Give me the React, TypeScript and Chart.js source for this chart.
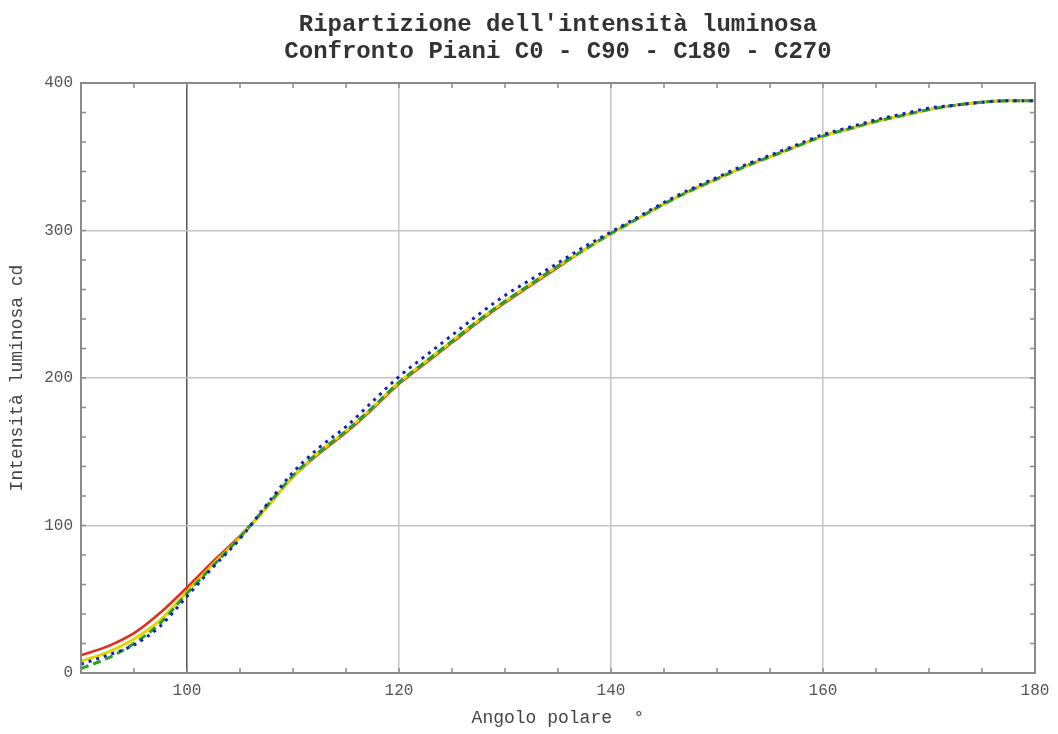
import React, { useEffect, useRef } from "react";
import { Chart, registerables } from "chart.js";

Chart.register(...registerables);

const angles = [90, 92.5, 95, 97.5, 100, 102.5, 105, 107.5, 110, 112.5, 115, 117.5, 120, 122.5, 125, 127.5, 130, 132.5, 135, 137.5, 140, 142.5, 145, 147.5, 150, 152.5, 155, 157.5, 160, 162.5, 165, 167.5, 170, 172.5, 175, 177.5, 180];

const c0 = [12, 18, 27, 41, 58, 76, 93, 112, 133, 149, 163, 179, 196, 210, 224, 238, 251, 263, 275, 287, 298, 308, 318, 327, 335, 343, 350, 357, 364, 369, 374, 378, 382, 385, 387, 388, 388];
const c90 = [6, 12, 19, 32, 52, 72, 91, 114, 136, 153, 167, 184, 201, 215, 229, 243, 256, 267, 278, 289, 299, 309, 319, 328, 336, 344, 351, 358, 365, 370, 375, 379, 383, 385, 387, 388, 388];
const c180 = [3, 10, 20, 34, 54, 73, 92, 113, 134, 150, 164, 180, 197, 211, 225, 239, 252, 264, 276, 287, 298, 308, 318, 327, 335, 343, 350, 357, 364, 369, 374, 378, 382, 385, 387, 388, 388];
const c270 = [8, 14, 23, 36, 55, 74, 92, 112, 133, 150, 164, 180, 197, 211, 225, 239, 252, 264, 276, 287, 298, 308, 318, 327, 335, 343, 350, 357, 364, 369, 374, 378, 382, 385, 387, 388, 388];

const xTicks = [100, 120, 140, 160, 180];
const yTicks = [0, 100, 200, 300, 400];

const titleLines = ["Ripartizione dell'intensità luminosa", "Confronto Piani C0 - C90 - C180 - C270"];

const mono = "'Liberation Mono', 'DejaVu Sans Mono', monospace";

const framePlugin = {
  id: "frame",
  afterDatasetsDraw(chart: any) {
    const { ctx, chartArea, scales } = chart;
    const { left, right, top, bottom } = chartArea;
    ctx.save();
    ctx.strokeStyle = "#8a8a8a";
    ctx.lineWidth = 1.5;
    for (let v = 90; v <= 180; v += 5) {
      const px = scales.x.getPixelForValue(v);
      ctx.beginPath();
      ctx.moveTo(px, bottom);
      ctx.lineTo(px, bottom - 5);
      ctx.moveTo(px, top);
      ctx.lineTo(px, top + 5);
      ctx.stroke();
    }
    for (let v = 0; v <= 400; v += 20) {
      const py = scales.y.getPixelForValue(v);
      ctx.beginPath();
      ctx.moveTo(left, py);
      ctx.lineTo(left + 5, py);
      ctx.moveTo(right, py);
      ctx.lineTo(right - 5, py);
      ctx.stroke();
    }
    ctx.lineWidth = 2;
    ctx.strokeRect(left, top, right - left, bottom - top);
    ctx.restore();
  },
};

export default function App() {
  const ref = useRef<HTMLCanvasElement>(null);
  useEffect(() => {
    if (!ref.current) return;
    const mk = (vals: number[]) => angles.map((a, i) => ({ x: a, y: vals[i] }));
    const chart = new Chart(ref.current, {
      type: "line",
      data: {
        datasets: [
          { label: "C0", data: mk(c0), borderColor: "rgb(225,45,25)", borderWidth: 2.5, pointRadius: 0, cubicInterpolationMode: "monotone", order: 3 },
          { label: "C270", data: mk(c270), borderColor: "rgb(225,215,0)", borderWidth: 3, pointRadius: 0, cubicInterpolationMode: "monotone", order: 2 },
          { label: "C180", data: mk(c180), borderColor: "rgb(40,160,40)", borderWidth: 3, borderDash: [8, 5], pointRadius: 0, cubicInterpolationMode: "monotone", order: 1 },
          { label: "C90", data: mk(c90), borderColor: "rgb(25,30,190)", borderWidth: 3, borderDash: [3, 5], pointRadius: 0, cubicInterpolationMode: "monotone", order: 0 },
        ] as any,
      },
      options: {
        animation: false,
        responsive: false,
        maintainAspectRatio: false,
        layout: { padding: { left: 0, right: 23, top: 0, bottom: 0 } },
        plugins: {
          legend: { display: false },
          tooltip: { enabled: false },
          title: {
            display: true,
            fullSize: false,
            text: titleLines,
            color: "#333",
            font: { family: mono, size: 24, weight: "bold", lineHeight: 27 / 24 },
            padding: { top: 11, bottom: 18 },
          },
        },
        scales: {
          x: {
            type: "linear",
            min: 90,
            max: 180,
            afterBuildTicks: (s: any) => { s.ticks = xTicks.map((v) => ({ value: v })); },
            afterFit: (s: any) => { s.height = 61; },
            ticks: { color: "#555", font: { family: mono, size: 16 }, padding: 8, maxRotation: 0 },
            grid: {
              drawTicks: false,
              color: (c: any) => (c.tick && c.tick.value === 100 ? "#555" : "#c4c4c4"),
              lineWidth: 1.5,
            },
            border: { display: false },
            title: { display: true, text: "Angolo polare  °", color: "#444", font: { family: mono, size: 18 }, padding: { top: 5, bottom: 5 } },
          },
          y: {
            type: "linear",
            min: 0,
            max: 400,
            afterBuildTicks: (s: any) => { s.ticks = yTicks.map((v) => ({ value: v })); },
            afterFit: (s: any) => { s.width = 81; },
            ticks: { color: "#555", font: { family: mono, size: 16 }, padding: 8 },
            grid: { drawTicks: false, color: "#c4c4c4", lineWidth: 1.5 },
            border: { display: false },
            title: { display: true, text: "Intensità luminosa cd", color: "#444", font: { family: mono, size: 18 }, padding: { top: 6, bottom: 0 } },
          },
        },
      },
      plugins: [framePlugin],
    });
    return () => chart.destroy();
  }, []);
  return (
    <div style={{ position: "absolute", left: 0, top: 0, width: 1058, height: 734, background: "#fff" }}>
      <canvas ref={ref} width={1058} height={734} style={{ width: 1058, height: 734, display: "block" }} />
    </div>
  );
}
